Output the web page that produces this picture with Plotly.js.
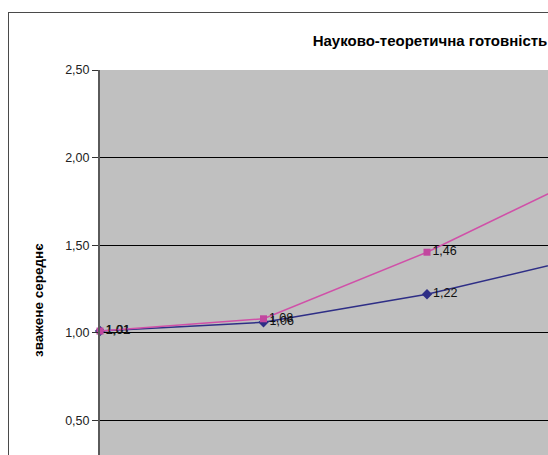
<!DOCTYPE html>
<html>
<head>
<meta charset="utf-8">
<script src="https://cdn.plot.ly/plotly-3.0.1.min.js"></script>
<style>
html, body { margin: 0; padding: 0; background: #fff; }
#wrap { position: relative; width: 548px; height: 455px; overflow: hidden; }
#chart { position: absolute; left: 0; top: 0; width: 870px; height: 580px; }
#edge { position: absolute; left: 8px; top: 12px; width: 900px; height: 600px; border-left: 1px solid #4a4a4a; border-top: 1px solid #4a4a4a; z-index: 1000; pointer-events: none; }
</style>
</head>
<body>
<div id="wrap"><div id="chart"></div><div id="edge"></div></div>
<script>
// Category positions (labels lie below the visible area)
var categories = [0, 1, 2, 3];
// Series values (last point is off-screen, estimated from the line slope)
var seriesA = [1.01, 1.06, 1.22, 1.44];   // navy, diamonds
var seriesB = [1.01, 1.08, 1.46, 1.91];   // pink, squares
var yTicks = [0, 0.5, 1.0, 1.5, 2.0, 2.5];
var chartTitle = 'Науково-теоретична готовність';
var yTitle = 'зважене середнє';

var FONT = 'Liberation Sans, Arial, sans-serif';

var traceA = {
  x: categories, y: seriesA, type: 'scatter', mode: 'lines+markers+text',
  line: {color: '#2e2e86', width: 1.5},
  marker: {symbol: 'diamond', size: 8, color: '#2e2e86'},
  texttemplate: '%{y:.2f}', textposition: 'middle right',
  textfont: {family: FONT, size: 12.5, color: '#111'},
  cliponaxis: false, hoverinfo: 'skip'
};
var traceB = {
  x: categories, y: seriesB, type: 'scatter', mode: 'lines+markers+text',
  line: {color: '#d050a8', width: 1.5},
  marker: {symbol: 'square', size: 7, color: '#c2479f'},
  texttemplate: '%{y:.2f}', textposition: 'middle right',
  textfont: {family: FONT, size: 12.5, color: '#111'},
  cliponaxis: false, hoverinfo: 'skip'
};

var layout = {
  width: 870, height: 580,
  margin: {l: 100, r: 116, t: 70, b: 72, pad: 0},
  paper_bgcolor: '#ffffff', plot_bgcolor: '#c0c0c0',
  separators: ', ',
  showlegend: false,
  font: {family: FONT, size: 12, color: '#222'},
  title: {text: chartTitle, xref: 'container', yref: 'container', x: 430 / 870, xanchor: 'center',
          y: 1 - 41 / 580, yanchor: 'middle', font: {family: FONT, size: 15, color: '#000', weight: 'bold'}},
  xaxis: {range: [0, 4], showgrid: false, zeroline: false, showticklabels: false, ticks: '',
          showline: false, fixedrange: true},
  yaxis: {range: [0, 2.5], tickvals: yTicks, tickformat: '.2f', showgrid: true, gridcolor: '#000', gridwidth: 1,
          zeroline: false, ticks: 'outside', ticklen: 6, tickcolor: '#333', tickwidth: 1,
          showline: true, linecolor: '#5a5a5a', linewidth: 2,
          tickfont: {family: FONT, size: 12.5, color: '#222'}, fixedrange: true},
  annotations: [{
    text: '<b>' + yTitle + '</b>', xref: 'paper', yref: 'paper', x: (38 - 100) / 654, y: (508 - 300) / 438,
    xanchor: 'center', yanchor: 'middle', textangle: -90, showarrow: false,
    font: {family: FONT, size: 13.5, color: '#000'}
  }]
};

Plotly.newPlot('chart', [traceA, traceB], layout, {staticPlot: true, displayModeBar: false});
</script>
</body>
</html>
